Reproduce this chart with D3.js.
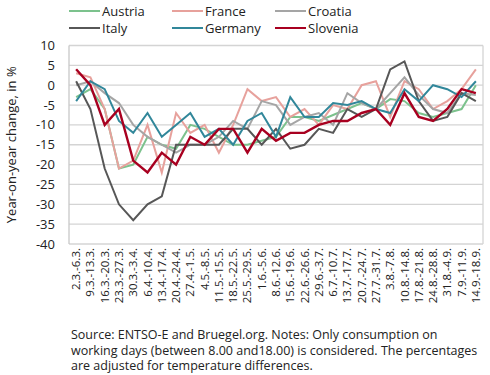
<!DOCTYPE html>
<html>
<head>
<meta charset="utf-8">
<script src="https://d3js.org/d3.v7.min.js"></script>
<style>
	body { margin: 0; background: #fff; }
	text { font-family: "Open Sans", sans-serif; fill: #222; }
</style>
</head>
<body>
<svg width="490" height="375"></svg>
<script>
var weeks = ['2.3.-6.3.', '9.3.-13.3.', '16.3.-20.3.', '23.3.-27.3.', '30.3.-3.4.', '6.4.-10.4.',
	'13.4.-17.4.', '20.4.-24.4.', '27.4.-1.5.', '4.5.-8.5.', '11.5.-15.5.', '18.5.-22.5.',
	'25.5.-29.5.', '1.6.-5.6.', '8.6.-12.6.', '15.6.-19.6.', '22.6.-26.6.', '29.6.-3.7.',
	'6.7.-10.7.', '13.7.-17.7.', '20.7.-24.7.', '27.7.-31.7.', '3.8.-7.8.', '10.8.-14.8.',
	'17.8.-21.8.', '24.8.-28.8.', '31.8.-4.9.', '7.9.-11.9.', '14.9.-18.9.'];

var austria = [-3, -1, -6, -21, -20, -13, -15, -16, -10, -11, -13, -15, -15, -14, -13, -8, -8, -9, -7.5, -6, -4.5, -6, -3.5, -4, -7, -8, -7, -6, 0];
var france = [3, 2, -6, -21, -19, -10, -22, -7, -12, -10, -17, -10, -1, -4, -3, -8, -6, -10, -5, -6, 0, 1, -8, 1, -1, -6, -4, -1, 4];
var croatia = [0, 1, -2, -4.5, -10, -13, -15, -17, -15, -15, -13, -9, -11, -4, -5, -10, -8, -7, -10, -2, -4.5, -6, -2, 2, -2.5, -6, -7, -2, -2.5];
var italy = [1, -6, -21, -30, -34, -30, -28, -15, -15, -15, -15, -11, -11, -15, -11, -16, -15, -11, -12, -6, -8, -6, 4, 6, -4, -9, -8, -2, -4];
var germany = [-4, 1, -1, -9, -12, -7, -13, -10, -7, -13, -11, -15, -9, -7, -13, -3, -8, -8, -4.5, -5, -4, -6, -7, -1, -4, 0, -1, -3, 1];
var slovenia = [4, 0, -10, -6, -19, -22, -17, -20, -13, -15, -11, -11, -17, -11, -14, -12, -12, -10, -9, -9, -7, -6, -10, -2, -8, -9, -6, -1, -2];

var yTicks = [10, 5, 0, -5, -10, -15, -20, -25, -30, -35, -40];

var series = [
	{ name: 'Austria', values: austria, color: '#7cc28d' },
	{ name: 'France', values: france, color: '#e7a19c' },
	{ name: 'Croatia', values: croatia, color: '#a5a5a5' },
	{ name: 'Italy', values: italy, color: '#575757' },
	{ name: 'Germany', values: germany, color: '#31879a' },
	{ name: 'Slovenia', values: slovenia, color: '#a80020' }
];

var svg = d3.select('svg');
var plotLeft = 69, plotRight = 483, plotTop = 45.5, plotBottom = 244;

var x = d3.scaleBand().domain(weeks).range([plotLeft, plotRight]);
var y = d3.scaleLinear().domain([-40, 10]).range([plotBottom, plotTop]);

// grid lines
svg.append('g')
	.selectAll('line')
	.data(yTicks)
	.enter()
	.append('line')
	.attr('x1', plotLeft)
	.attr('x2', plotRight)
	.attr('y1', d => y(d))
	.attr('y2', d => y(d))
	.attr('stroke', '#d4d4d4')
	.attr('stroke-width', 1.3);

// plot border left / right
svg.append('line').attr('x1', plotLeft).attr('x2', plotLeft).attr('y1', plotTop).attr('y2', plotBottom)
	.attr('stroke', '#c8c8c8').attr('stroke-width', 1.3);
svg.append('line').attr('x1', plotRight).attr('x2', plotRight).attr('y1', plotTop).attr('y2', plotBottom)
	.attr('stroke', '#d4d4d4').attr('stroke-width', 1.3);

// y labels
svg.append('g')
	.selectAll('text')
	.data(yTicks)
	.enter()
	.append('text')
	.attr('x', 55)
	.attr('y', d => y(d))
	.attr('dy', '0.35em')
	.attr('text-anchor', 'end')
	.style('font-size', '13px')
	.text(d => d);

svg.append('text')
	.attr('transform', 'translate(16,' + ((plotTop + plotBottom) / 2) + ') rotate(-90)')
	.attr('text-anchor', 'middle')
	.style('font-size', '13px')
	.text('Year-on-year change, in %');

// x labels
svg.append('g')
	.selectAll('text')
	.data(weeks)
	.enter()
	.append('text')
	.attr('transform', d => 'translate(' + (x(d) + x.bandwidth() / 2) + ',' + (plotBottom + 4) + ') rotate(-90)')
	.attr('text-anchor', 'end')
	.attr('dy', '0.35em')
	.style('font-size', '11.5px')
	.text(d => d);

var line = d3.line()
	.x((d, i) => x(weeks[i]) + x.bandwidth() / 2)
	.y(d => y(d));

svg.append('g')
	.selectAll('path')
	.data(series)
	.enter()
	.append('path')
	.attr('d', d => line(d.values))
	.attr('fill', 'none')
	.attr('stroke', d => d.color)
	.attr('stroke-width', d => d.name == 'Slovenia' ? 2.4 : 2)
	.attr('stroke-linejoin', 'miter');

// legend, 3 per row
var legend = svg.append('g')
	.selectAll('g')
	.data(series)
	.enter()
	.append('g')
	.attr('transform', (d, i) => 'translate(' + [69, 172, 275][i % 3] + ',' + (i < 3 ? 11 : 28) + ')');

legend.append('line')
	.attr('x1', 0)
	.attr('x2', 31)
	.attr('stroke', d => d.color)
	.attr('stroke-width', 2);

legend.append('text')
	.attr('x', 33)
	.attr('dy', '0.35em')
	.style('font-size', '13px')
	.text(d => d.name);

var notes = ['Source: ENTSO-E and Bruegel.org. Notes: Only consumption on',
	'working days (between 8.00 and18.00) is considered. The percentages',
	'are adjusted for temperature differences.'];

svg.append('g')
	.selectAll('text')
	.data(notes)
	.enter()
	.append('text')
	.attr('x', 71)
	.attr('y', (d, i) => 335 + i * 15.5)
	.attr('dy', '0.35em')
	.style('font-size', '12.5px')
	.text(d => d);
</script>
</body>
</html>
